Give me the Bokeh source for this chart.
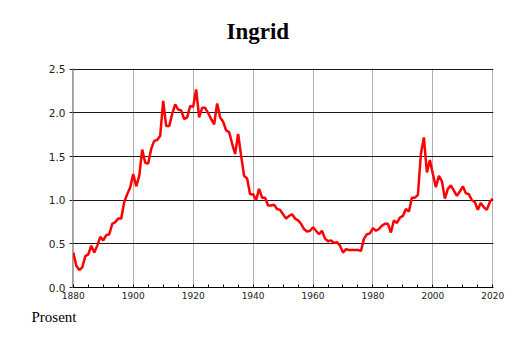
from bokeh.plotting import figure
from bokeh.models import Range1d, FixedTicker, Title, PrintfTickFormatter
from bokeh.embed import file_html
from bokeh.resources import INLINE

TITLE = "Ingrid"
Y_LABEL = "Prosent"
START_YEAR = 1880
values = [
    0.40, 0.25, 0.20, 0.23, 0.36, 0.38, 0.48, 0.40, 0.48, 0.58,   # 1880-1889
    0.54, 0.60, 0.61, 0.73, 0.75, 0.79, 0.79, 0.98, 1.07, 1.15,   # 1890-1899
    1.30, 1.16, 1.28, 1.58, 1.43, 1.42, 1.59, 1.68, 1.69, 1.74,   # 1900-1909
    2.14, 1.85, 1.85, 1.99, 2.10, 2.04, 2.03, 1.93, 1.95, 2.08,   # 1910-1919
    2.07, 2.27, 1.95, 2.06, 2.06, 2.00, 1.93, 1.87, 2.11, 1.95,   # 1920-1929
    1.90, 1.80, 1.78, 1.65, 1.53, 1.76, 1.51, 1.28, 1.25, 1.07,   # 1930-1939
    1.07, 1.00, 1.13, 1.03, 1.03, 0.94, 0.94, 0.95, 0.90, 0.89,   # 1940-1949
    0.84, 0.79, 0.82, 0.84, 0.79, 0.77, 0.73, 0.67, 0.64, 0.65,   # 1950-1959
    0.69, 0.65, 0.61, 0.65, 0.56, 0.53, 0.54, 0.51, 0.52, 0.48,   # 1960-1969
    0.40, 0.44, 0.43, 0.43, 0.43, 0.43, 0.42, 0.56, 0.61, 0.62,   # 1970-1979
    0.68, 0.65, 0.67, 0.71, 0.73, 0.73, 0.63, 0.77, 0.74, 0.80,   # 1980-1989
    0.82, 0.90, 0.87, 1.03, 1.03, 1.06, 1.53, 1.72, 1.32, 1.46,   # 1990-1999
    1.30, 1.15, 1.28, 1.22, 1.02, 1.13, 1.17, 1.11, 1.05, 1.10,   # 2000-2009
    1.16, 1.08, 1.07, 1.00, 0.98, 0.89, 0.97, 0.92, 0.89, 0.98,   # 2010-2019
    1.02,                                                         # 2020
]
years = list(range(START_YEAR, START_YEAR + len(values)))
x_ticks = [1880, 1900, 1920, 1940, 1960, 1980, 2000, 2020]
x_minor = list(range(1880, 2021, 5))
y_ticks = [0.0, 0.5, 1.0, 1.5, 2.0, 2.5]

p = figure(width=514, height=343, output_backend="svg", toolbar_location=None,
           x_range=Range1d(1879.73, 2020.23), y_range=Range1d(0, 2.51),
           min_border_left=72, min_border_right=21, min_border_top=68,
           min_border_bottom=56)
p.outline_line_color = None
p.background_fill_color = "white"
p.border_fill_color = "white"

# grids
p.xgrid.ticker = FixedTicker(ticks=x_ticks)
p.xgrid.grid_line_color = "#b0b0b0"
p.xgrid.grid_line_width = 1
p.ygrid.ticker = FixedTicker(ticks=y_ticks)
p.ygrid.grid_line_color = "#1a1a1a"
p.ygrid.grid_line_width = 1

# x axis
xa = p.xaxis[0]
xa.ticker = FixedTicker(ticks=x_ticks, minor_ticks=x_minor)
xa.axis_line_color = "black"
xa.major_tick_in = 0
xa.major_tick_out = 0
xa.minor_tick_in = 3
xa.minor_tick_out = 0
xa.minor_tick_line_color = "black"
xa.major_label_standoff = 4
xa.major_label_text_font = "DejaVu Sans"
xa.major_label_text_font_size = "9px"
xa.major_label_text_color = "#222222"

# y axis
ya = p.yaxis[0]
ya.ticker = FixedTicker(ticks=y_ticks)
ya.formatter = PrintfTickFormatter(format="%.1f")
ya.axis_line_color = "#a0a0a0"
ya.major_tick_in = 0
ya.major_tick_out = 3
ya.major_tick_line_color = "#222222"
ya.minor_tick_line_color = None
ya.major_label_standoff = 4
ya.major_label_text_font = "DejaVu Sans"
ya.major_label_text_font_size = "10.5px"
ya.major_label_text_color = "#222222"

p.line(years, values, line_color="#ff0000", line_width=2.5)

# spacer between frame and title (first "above" item sits next to the frame)
p.add_layout(Title(text=" ", text_font_size="1px", standoff=22), "above")
p.add_layout(Title(text=TITLE, align="left", offset=154, vertical_align="bottom",
                   text_font="Liberation Serif", text_font_style="bold",
                   text_font_size="23px", text_color="black", standoff=0), "above")
p.add_layout(Title(text=Y_LABEL, align="left", offset=-41,
                   text_font="Liberation Serif", text_font_style="normal",
                   text_font_size="15px", text_color="black", standoff=11), "below")

open("out.html", "w").write(file_html(p, INLINE))
